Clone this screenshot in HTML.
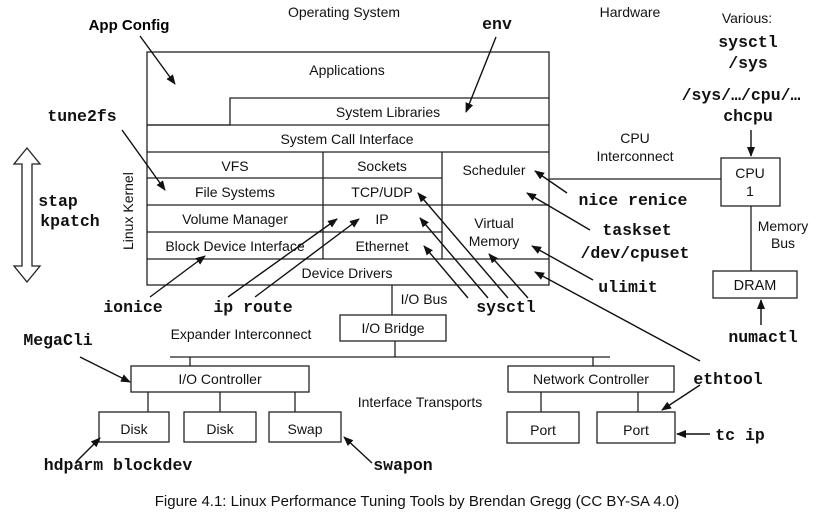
<!DOCTYPE html>
<html><head><meta charset="utf-8"><style>
html,body{margin:0;padding:0;background:#fff;}
svg{display:block}
.s{font-family:"Liberation Sans",sans-serif;font-size:14px;fill:#111}
.m{font-family:"Liberation Mono",monospace;font-size:16.5px;font-weight:bold;fill:#111}
</style></head><body>
<svg width="834" height="522" viewBox="0 0 834 522" xmlns="http://www.w3.org/2000/svg">
<defs><marker id="a" markerWidth="10" markerHeight="8" refX="9" refY="4" orient="auto" markerUnits="userSpaceOnUse"><path d="M0,0 L10,4 L0,8 Z" fill="#111"/></marker></defs>
<g stroke="#222" stroke-width="1.3" fill="none">
<rect x="147" y="52" width="402" height="233"/>
<polyline points="147,125 230,125 230,98 549,98"/>
<line x1="147" y1="125" x2="549" y2="125"/>
<line x1="147" y1="152" x2="549" y2="152"/>
<line x1="147" y1="178" x2="442" y2="178"/>
<line x1="147" y1="205" x2="549" y2="205"/>
<line x1="147" y1="232" x2="442" y2="232"/>
<line x1="147" y1="259" x2="549" y2="259"/>
<line x1="323" y1="152" x2="323" y2="259"/>
<line x1="442" y1="152" x2="442" y2="259"/>
<rect x="721" y="158" width="59" height="48"/>
<rect x="713" y="271" width="84" height="27"/>
<line x1="549" y1="179" x2="721" y2="179"/>
<line x1="751" y1="206" x2="751" y2="271"/>
<line x1="392" y1="285" x2="392" y2="315"/>
<rect x="340" y="315" width="106" height="26"/>
<line x1="395" y1="341" x2="395" y2="357"/>
<line x1="170" y1="357" x2="610" y2="357"/>
<line x1="190" y1="357" x2="190" y2="366"/>
<line x1="593" y1="357" x2="593" y2="366"/>
<rect x="131" y="366" width="178" height="26"/>
<rect x="508" y="366" width="166" height="26"/>
<line x1="148" y1="392" x2="148" y2="412"/>
<line x1="220" y1="392" x2="220" y2="412"/>
<line x1="295" y1="392" x2="295" y2="412"/>
<line x1="541" y1="392" x2="541" y2="412"/>
<line x1="638" y1="392" x2="638" y2="412"/>
<rect x="99" y="412" width="70" height="30"/>
<rect x="184" y="412" width="72" height="30"/>
<rect x="269" y="412" width="72" height="30"/>
<rect x="507" y="412" width="72" height="31"/>
<rect x="597" y="412" width="78" height="31"/>
<path d="M27,148 L40,164 L32,164 L32,266 L40,266 L27,282 L14,266 L22,266 L22,164 L14,164 Z"/>
</g>
<g stroke="#111" stroke-width="1.4" marker-end="url(#a)">
<line x1="140" y1="36" x2="175" y2="84"/>
<line x1="496" y1="37" x2="466" y2="112"/>
<line x1="122" y1="130" x2="165" y2="190"/>
<line x1="567" y1="193" x2="535" y2="171"/>
<line x1="590" y1="230" x2="527" y2="193"/>
<line x1="593" y1="280" x2="532" y2="246"/>
<line x1="150" y1="297" x2="205" y2="256"/>
<line x1="228" y1="297" x2="337" y2="219"/>
<line x1="255" y1="297" x2="359" y2="219"/>
<line x1="468" y1="298" x2="424" y2="246"/>
<line x1="488" y1="298" x2="420" y2="218"/>
<line x1="508" y1="298" x2="418" y2="193"/>
<line x1="528" y1="298" x2="489" y2="254"/>
<line x1="700" y1="361" x2="535" y2="272"/>
<line x1="700" y1="385" x2="662" y2="410"/>
<line x1="80" y1="357" x2="130" y2="382"/>
<line x1="76" y1="462" x2="100" y2="438"/>
<line x1="372" y1="463" x2="344" y2="437"/>
<line x1="710" y1="434" x2="677" y2="434"/>
<line x1="761" y1="325" x2="761" y2="300"/>
<line x1="751" y1="130" x2="751" y2="156"/>
</g>
<g class="s" text-anchor="middle">
<text x="344" y="17">Operating System</text>
<text x="630" y="17">Hardware</text>
<text x="747" y="23">Various:</text>
<text x="347" y="75">Applications</text>
<text x="388" y="117">System Libraries</text>
<text x="347" y="144">System Call Interface</text>
<text x="235" y="171">VFS</text>
<text x="235" y="197">File Systems</text>
<text x="235" y="224">Volume Manager</text>
<text x="235" y="251">Block Device Interface</text>
<text x="382" y="171">Sockets</text>
<text x="382" y="197">TCP/UDP</text>
<text x="382" y="224">IP</text>
<text x="382" y="251">Ethernet</text>
<text x="494" y="175">Scheduler</text>
<text x="494" y="228">Virtual</text>
<text x="494" y="246">Memory</text>
<text x="347" y="278">Device Drivers</text>
<text x="635" y="143">CPU</text>
<text x="635" y="161">Interconnect</text>
<text x="750" y="178">CPU</text>
<text x="750" y="196">1</text>
<text x="783" y="231">Memory</text>
<text x="783" y="248">Bus</text>
<text x="755" y="290" font-size="14.5">DRAM</text>
<text x="424" y="304">I/O Bus</text>
<text x="393" y="333">I/O Bridge</text>
<text x="241" y="339">Expander Interconnect</text>
<text x="220" y="384">I/O Controller</text>
<text x="591" y="384">Network Controller</text>
<text x="420" y="407">Interface Transports</text>
<text x="134" y="434">Disk</text>
<text x="220" y="434">Disk</text>
<text x="305" y="434">Swap</text>
<text x="543" y="435">Port</text>
<text x="636" y="435">Port</text>
<text x="417" y="506" font-size="15">Figure 4.1: Linux Performance Tuning Tools by Brendan Gregg (CC BY-SA 4.0)</text>
</g>
<text class="s" transform="translate(133,250) rotate(-90)" font-size="13">Linux Kernel</text>
<text x="129" y="30" text-anchor="middle" style="font-family:'Liberation Sans',sans-serif;font-weight:bold;font-size:15px">App Config</text>
<g class="m" text-anchor="middle">
<text x="497" y="29">env</text>
<text x="748" y="47">sysctl</text>
<text x="748" y="68">/sys</text>
<text x="741" y="100">/sys/…/cpu/…</text>
<text x="748" y="121">chcpu</text>
<text x="82" y="121">tune2fs</text>
<text x="58" y="206">stap</text>
<text x="70" y="226">kpatch</text>
<text x="633" y="205">nice renice</text>
<text x="637" y="235">taskset</text>
<text x="635" y="258">/dev/cpuset</text>
<text x="628" y="292">ulimit</text>
<text x="133" y="312">ionice</text>
<text x="253" y="312">ip route</text>
<text x="506" y="312">sysctl</text>
<text x="763" y="342">numactl</text>
<text x="58" y="345">MegaCli</text>
<text x="728" y="384">ethtool</text>
<text x="740" y="440">tc ip</text>
<text x="118" y="470">hdparm blockdev</text>
<text x="403" y="470">swapon</text>
</g>
</svg>
</body></html>
